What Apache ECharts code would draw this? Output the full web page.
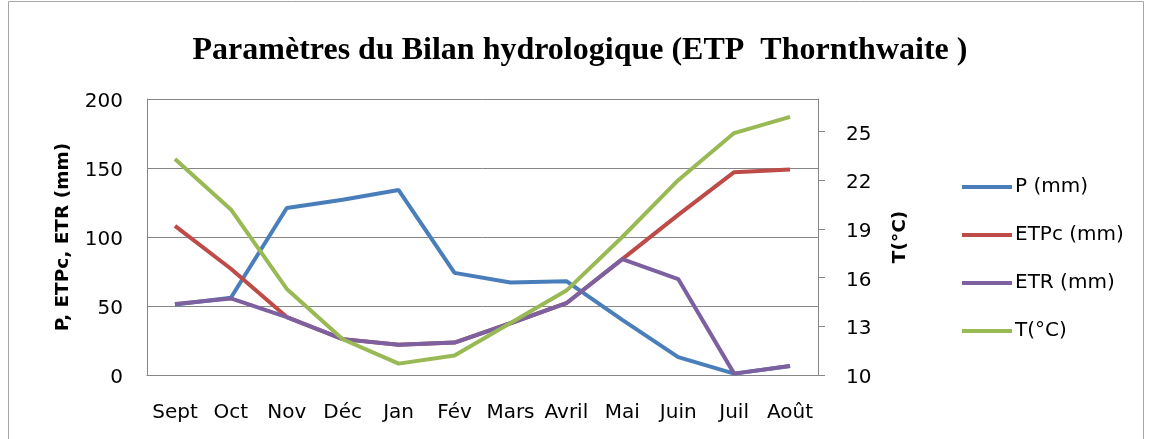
<!DOCTYPE html>
<html><head><meta charset="utf-8">
<script src="https://cdn.jsdelivr.net/npm/echarts@6/dist/echarts.min.js"></script>
<style>html,body{margin:0;padding:0;background:#fff}#c{width:1150px;height:439px}</style>
</head><body><div id="c"></div>
<script>
const months = ['Sept','Oct','Nov','Déc','Jan','Fév','Mars','Avril','Mai','Juin','Juil','Août'];
const P    = [51, 56, 121, 127, 134, 74, 67, 68, 40, 13, 1, 6.5];
const ETPc = [108, 77, 42, 26, 22, 23.5, 37.5, 52, 84, 116, 147, 149];
const ETR  = [51.5, 55.5, 42, 26, 22, 23.5, 37.5, 52, 84, 69.5, 1, 6.5];
const T    = [23.3, 20.2, 15.3, 12.2, 10.7, 11.2, 13.2, 15.2, 18.5, 22.0, 24.9, 25.9];
const leftTicks = {min: 0, max: 200, interval: 50};
const rightTicks = {min: 10, max: 27, interval: 3};

const chart = echarts.init(document.getElementById('c'), null, {renderer: 'canvas'});
const font = '"DejaVu Sans", "Liberation Sans", sans-serif';
const axisGray = '#868686';
const tickRich = {a: {fontFamily: font, fontSize: 20, color: '#000', padding: [6, 0, 0, 0]}};
chart.setOption({
  animation: false,
  backgroundColor: '#fff',
  title: {
    text: 'Paramètres du Bilan hydrologique (ETP  Thornthwaite )',
    left: 575, top: 30, textAlign: 'center',
    textStyle: {fontFamily: '"Liberation Serif", "DejaVu Serif", serif', fontWeight: 'bold', fontSize: 32, color: '#000'}
  },
  graphic: [{type: 'rect', shape: {x: 8.5, y: 1.5, width: 1135, height: 460}, style: {fill: 'none', stroke: '#a6a6a6', lineWidth: 1}, silent: true}],
  legend: {
    orient: 'vertical', left: 957, top: 172, itemGap: 28, itemWidth: 50, itemHeight: 4,
    icon: 'rect',
    textStyle: {fontFamily: font, fontSize: 20, color: '#000', padding: [0,0,0,-2]},
    data: ['P (mm)', 'ETPc (mm)', 'ETR (mm)', 'T(°C)']
  },
  grid: {left: 147, top: 99, right: 332, bottom: 64},
  xAxis: {
    type: 'category', data: months, boundaryGap: true,
    axisLine: {lineStyle: {color: axisGray}},
    axisTick: {show: false},
    axisLabel: {color: '#000', fontFamily: font, fontSize: 20, margin: 28, interval: 0}
  },
  yAxis: [{
    type: 'value', min: leftTicks.min, max: leftTicks.max, interval: leftTicks.interval,
    name: 'P, ETPc, ETR (mm)', nameLocation: 'middle', nameGap: 74, nameRotate: 90,
    nameTextStyle: {fontFamily: font, fontWeight: 'bold', fontSize: 18.5, color: '#000'},
    axisLine: {show: true, lineStyle: {color: axisGray}},
    axisTick: {show: false},
    splitLine: {lineStyle: {color: axisGray, width: 1}},
    axisLabel: {color: '#000', fontFamily: font, fontSize: 20, margin: 24, formatter: v => '{a|' + v + '}', rich: tickRich}
  }, {
    type: 'value', min: rightTicks.min, max: rightTicks.max, interval: rightTicks.interval,
    name: 'T(°C)', nameLocation: 'middle', nameGap: 73, nameRotate: 90,
    nameTextStyle: {fontFamily: font, fontWeight: 'bold', fontSize: 18.5, color: '#000'},
    axisLine: {show: true, lineStyle: {color: axisGray}},
    axisTick: {show: true, length: 7, lineStyle: {color: axisGray}},
    splitLine: {show: false},
    axisLabel: {color: '#000', fontFamily: font, fontSize: 20, margin: 28, showMaxLabel: false, formatter: v => '{a|' + v + '}', rich: tickRich}
  }],
  series: [
    {name: 'P (mm)', type: 'line', data: P, yAxisIndex: 0, symbol: 'none', lineStyle: {width: 4, color: '#4a7ebb'}, itemStyle: {color: '#4a7ebb'}},
    {name: 'ETPc (mm)', type: 'line', data: ETPc, yAxisIndex: 0, symbol: 'none', lineStyle: {width: 4, color: '#be4b48'}, itemStyle: {color: '#be4b48'}},
    {name: 'ETR (mm)', type: 'line', data: ETR, yAxisIndex: 0, symbol: 'none', lineStyle: {width: 4, color: '#7d60a0'}, itemStyle: {color: '#7d60a0'}},
    {name: 'T(°C)', type: 'line', data: T, yAxisIndex: 1, symbol: 'none', lineStyle: {width: 4, color: '#98b954'}, itemStyle: {color: '#98b954'}}
  ]
});
</script></body></html>
